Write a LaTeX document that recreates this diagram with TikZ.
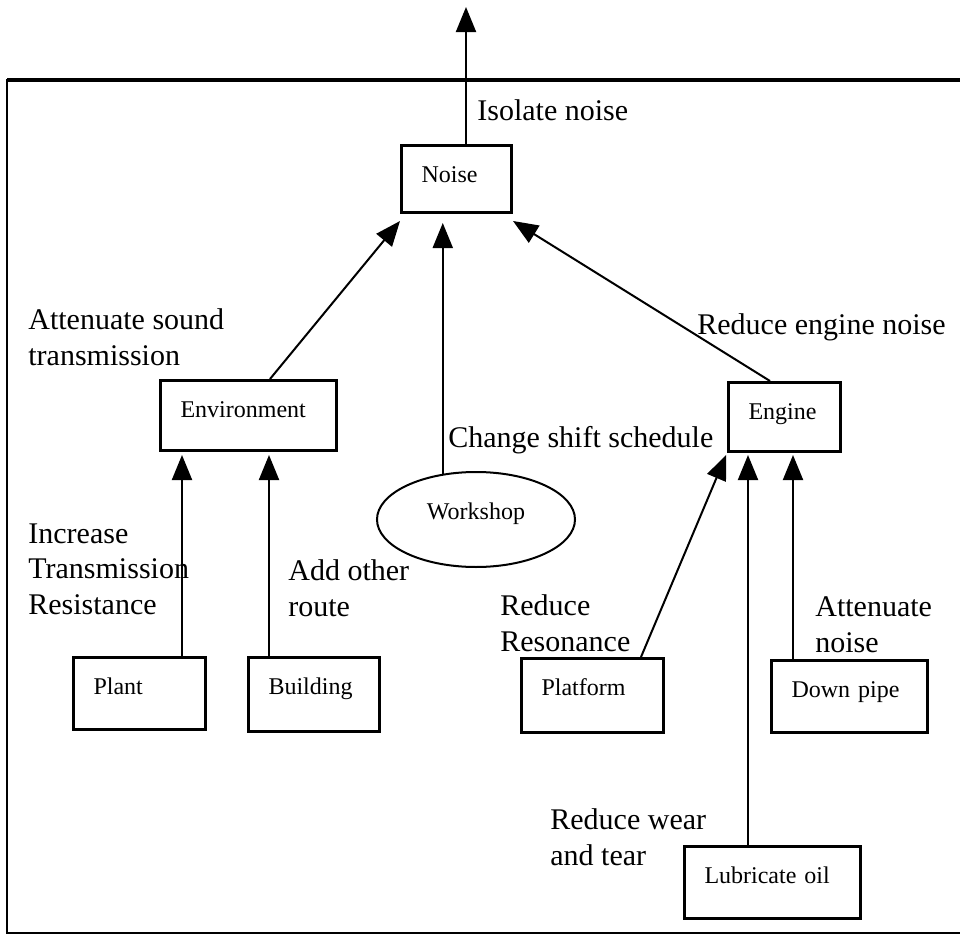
\documentclass[tikz,border=0pt]{standalone}
\usepackage{fontspec}
\setmainfont{Liberation Serif}
\usetikzlibrary{arrows.meta,shapes.geometric,calc}

\begin{document}
\begin{tikzpicture}[x=0.5pt,y=-0.5pt,
  % multi-line labels sit on the baseline of their last line
  lbl/.style={font=\fontsize{15}{17.75}\selectfont, anchor=base west, inner sep=0pt, align=left},
  box/.style={draw, line width=1.5pt, anchor=north west, font=\fontsize{12}{14}\selectfont,
              align=left, inner xsep=10pt, inner ysep=0pt, text height=18.5pt},
  oval/.style={draw, ellipse, line width=1pt, inner sep=0pt, font=\fontsize{12}{14}\selectfont,
               text height=6pt, text depth=6pt},
  arr/.style={line width=1pt, -{Triangle[width=10pt,length=12.5pt]}},
]
\useasboundingbox (0,0) rectangle (960,937);

% open frame around the tree (right side runs off the page)
\draw[line width=2pt] (960,80) -- (7,80);
\draw[line width=1.2pt] (7,79) -- (7,933) -- (960,933);

% boxes
\node[box, text width=35pt, text depth=15pt]   (noise)    at (400,144) {Noise};
\node[box, text width=68pt, text depth=16.5pt] (env)      at (159,379) {Environment};
\node[box, text width=36pt, text depth=16pt]   (engine)   at (727,381) {Engine};
\node[box, text width=46pt, text depth=17.5pt] (plant)    at (72,656)  {Plant};
\node[box, text width=45.5pt, text depth=18.5pt] (building) at (247,656) {Building};
\node[box, text width=51pt, text depth=18.5pt] (platform) at (520,657) {Platform};
\node[box, text width=58pt, text depth=17.5pt] (downpipe) at (770,659) {Down pipe};
\node[box, text width=68pt, text depth=17.5pt] (lube)     at (683,845) {Lubricate oil};
\node[oval, minimum width=99pt, minimum height=47.5pt] (workshop) at (476,519.5) {Workshop};

% connector end points
\coordinate (top)      at (466,7);
\coordinate (envTop)   at ($(env.north west)+(111,0)$);
\coordinate (engTop)   at ($(engine.north west)+(43,0)$);
\coordinate (plantTop) at ($(plant.north west)+(110,0)$);
\coordinate (bldTop)   at ($(building.north west)+(22,0)$);
\coordinate (platTop)  at ($(platform.north west)+(121,0)$);
\coordinate (lubeTop)  at ($(lube.north west)+(65,0)$);
\coordinate (pipeTop)  at ($(downpipe.north west)+(23,0)$);

% connectors
\draw[arr] (noise.north -| top) -- (top);
\draw[arr] (envTop) -- ($(noise.south west)+(0,7)$);
\draw[arr, shorten >=4.5pt] (workshop.126) -- (workshop.126 |- noise.south);
\draw[arr] (engTop) -- ($(noise.south east)+(0,7)$);
\draw[arr, shorten >=1.5pt] (plantTop) -- (plantTop |- env.south);
\draw[arr, shorten >=1.5pt] (bldTop) -- (bldTop |- env.south);
\draw[arr, shorten >=1pt] (platTop) -- (engine.south west);
\draw[arr, shorten >=1pt] (lubeTop) -- (lubeTop |- engine.south);
\draw[arr, shorten >=1pt] (pipeTop) -- (pipeTop |- engine.south);

% labels
\node[lbl] (lIso)  at (477,120) {Isolate noise};
\node[lbl] (lAtt)  at (28,365)  {Attenuate sound\\transmission};
\node[lbl] (lRed)  at (697,334) {Reduce engine noise};
\node[lbl] (lChg)  at (448,447) {Change shift schedule};
\node[lbl] (lInc)  at (28,614)  {Increase\\Transmission\\Resistance};
\node[lbl] (lAdd)  at (288,616) {Add other\\route};
\node[lbl] (lRes)  at (500,651) {Reduce\\Resonance};
\node[lbl] (lAtn)  at (815,652) {Attenuate\\noise};
\node[lbl] (lWear) at (550,865) {Reduce wear\\and tear};
\end{tikzpicture}
\end{document}
